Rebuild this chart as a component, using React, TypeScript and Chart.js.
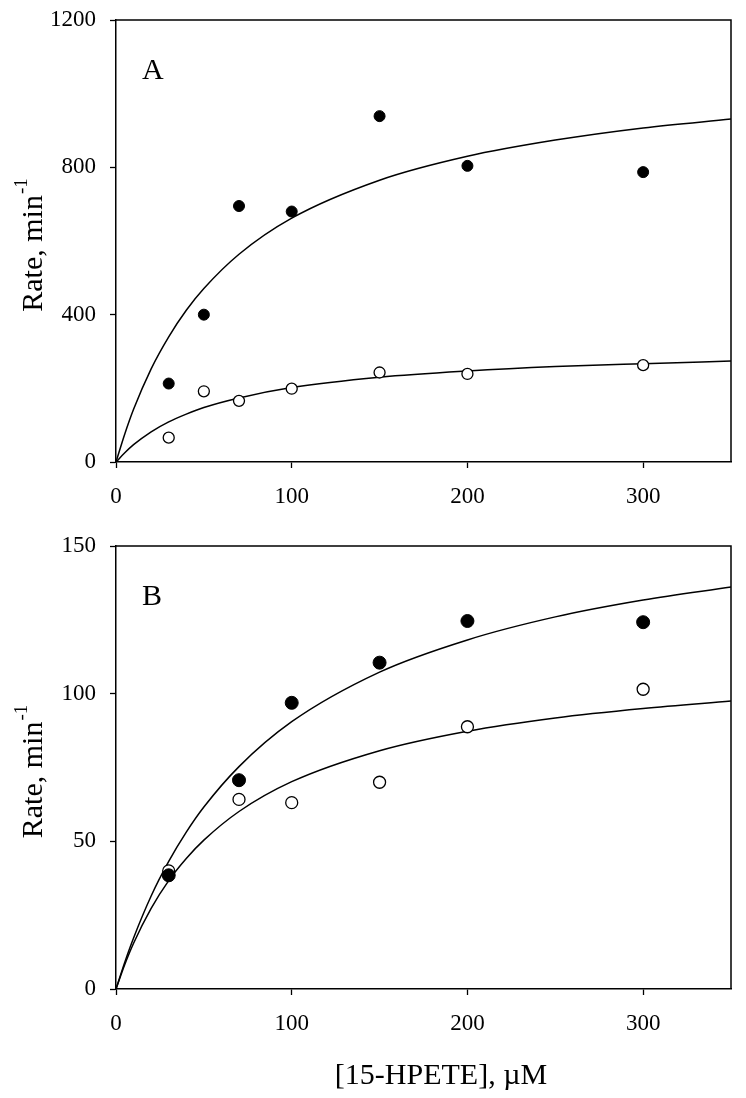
import React, { useEffect, useRef } from 'react';
import { Chart, registerables } from 'chart.js';

Chart.register(...registerables);

const FONT = "'Liberation Serif', 'Times New Roman', Times, serif";

// Tick labels
const xTicks = [0, 100, 200, 300];
const yTicksA = [0, 400, 800, 1200];
const yTicksB = [0, 50, 100, 150];

// Panel A measured points
const xA = [30, 50, 70, 100, 150, 200, 300];
const aFilled = [213, 400, 695, 680, 939, 804, 787];
const aOpen = [66, 192, 166, 199, 243, 239, 263];

// Panel B measured points
const xB = [30, 70, 100, 150, 200, 300];
const bFilled = [38.5, 70.7, 96.9, 110.5, 124.6, 124.2];
const bOpen = [40, 64.2, 63.1, 70.0, 88.8, 101.5];

// Fitted curves
const fitX = [0, 5, 10, 20, 30, 40, 50, 70, 100, 150, 200, 250, 300, 350];
const aFitFilled = [0, 76, 143, 253, 340, 412, 471, 564, 662, 765, 830, 874, 907, 931];
const aFitOpen = [0, 25, 47, 82, 109, 130, 148, 174, 202, 230, 247, 259, 267, 274];
const bFitFilled = [0, 9.1, 17.3, 31.5, 43.2, 53.1, 61.6, 75.3, 90.5, 107.3, 118.2, 126.0, 131.7, 136.1];
const bFitOpen = [0, 8.3, 15.5, 27.3, 36.7, 44.2, 50.4, 60.1, 70.2, 80.7, 87.3, 91.8, 95.0, 97.5];

const zip = (xs: number[], ys: number[]) => xs.map((x, i) => ({ x, y: ys[i] }));

type PanelOpts = {
  letter: string;
  yTicks: number[];
  yMax: number;
  filled: { x: number; y: number }[];
  open: { x: number; y: number }[];
  fitFilled: { x: number; y: number }[];
  fitOpen: { x: number; y: number }[];
  padTop: number;
  xAxisHeight: number;
  filledR: number;
  openR: number;
  xTitle: boolean;
};

function buildChart(canvas: HTMLCanvasElement, o: PanelOpts) {
  const decor = {
    id: 'decor' + o.letter,
    afterDraw(chart: any) {
      const { ctx, chartArea } = chart;
      const { left, top, right, bottom } = chartArea;
      ctx.save();
      ctx.strokeStyle = '#000';
      ctx.lineWidth = 1.5;
      ctx.beginPath();
      ctx.moveTo(left, top);
      ctx.lineTo(right, top);
      ctx.lineTo(right, bottom);
      ctx.stroke();

      ctx.fillStyle = '#000';
      // panel letter
      ctx.font = `30px ${FONT}`;
      ctx.textAlign = 'left';
      ctx.textBaseline = 'alphabetic';
      ctx.fillText(o.letter, left + 26, top + 59);

      // y title with superscript
      const main = 'Rate, min';
      const sup = '-1';
      ctx.font = `30px ${FONT}`;
      const w1 = ctx.measureText(main).width;
      ctx.font = `19px ${FONT}`;
      const w2 = ctx.measureText(sup).width;
      const total = w1 + 1 + w2;
      const cy = (top + bottom) / 2;
      ctx.translate(42, cy + total / 2 + 4);
      ctx.rotate(-Math.PI / 2);
      ctx.font = `30px ${FONT}`;
      ctx.fillText(main, 0, 0);
      ctx.font = `19px ${FONT}`;
      ctx.fillText(sup, w1 + 1, -15);
      ctx.restore();

      if (o.xTitle) {
        ctx.save();
        ctx.fillStyle = '#000';
        ctx.font = `30px ${FONT}`;
        ctx.textAlign = 'center';
        ctx.textBaseline = 'alphabetic';
        ctx.fillText('[15-HPETE], \u00B5M', 441, bottom + 95);
        ctx.restore();
      }
    },
  };

  const tickFont = { family: FONT, size: 23 };

  return new Chart(canvas, {
    type: 'scatter',
    data: {
      datasets: [
        {
          data: o.filled,
          pointRadius: o.filledR,
          pointBackgroundColor: '#000',
          pointBorderColor: '#000',
          pointBorderWidth: 1,
          showLine: false,
        },
        {
          data: o.open,
          pointRadius: o.openR,
          pointBackgroundColor: '#fff',
          pointBorderColor: '#000',
          pointBorderWidth: 1.3,
          showLine: false,
        },
        {
          data: o.fitFilled,
          showLine: true,
          pointRadius: 0,
          borderColor: '#000',
          borderWidth: 1.5,
          cubicInterpolationMode: 'monotone',
          fill: false,
        },
        {
          data: o.fitOpen,
          showLine: true,
          pointRadius: 0,
          borderColor: '#000',
          borderWidth: 1.5,
          cubicInterpolationMode: 'monotone',
          fill: false,
        },
      ],
    } as any,
    options: {
      responsive: false,
      animation: false,
      devicePixelRatio: 1,
      layout: { padding: { left: 0, right: 15, top: o.padTop, bottom: 0 } },
      plugins: { legend: { display: false }, tooltip: { enabled: false } },
      events: [],
      scales: {
        x: {
          type: 'linear',
          min: 0,
          max: 350,
          afterBuildTicks: (s: any) => {
            s.ticks = xTicks.map((v) => ({ value: v }));
          },
          afterFit: (s: any) => {
            s.height = o.xAxisHeight;
            s.paddingLeft = 0;
            s.paddingRight = 0;
            s.paddingTop = 0;
            s.paddingBottom = 0;
          },
          grid: {
            display: true,
            drawOnChartArea: false,
            drawTicks: true,
            tickLength: 6,
            tickColor: '#000',
            tickWidth: 1.3,
          },
          border: { display: true, color: '#000', width: 1.5 },
          ticks: {
            color: '#000',
            font: tickFont,
            padding: 15,
            maxRotation: 0,
            callback: (v: any) => String(v),
          },
        },
        y: {
          type: 'linear',
          min: 0,
          max: o.yMax,
          afterBuildTicks: (s: any) => {
            s.ticks = o.yTicks.map((v) => ({ value: v }));
          },
          afterFit: (s: any) => {
            s.width = 116;
            s.paddingLeft = 0;
            s.paddingRight = 0;
            s.paddingTop = 0;
            s.paddingBottom = 0;
          },
          grid: {
            display: true,
            drawOnChartArea: false,
            drawTicks: true,
            tickLength: 6,
            tickColor: '#000',
            tickWidth: 1.3,
          },
          border: { display: true, color: '#000', width: 1.5 },
          ticks: { color: '#000', font: tickFont, padding: 14, callback: (v: any) => String(v) },
        },
      },
    } as any,
    plugins: [decor],
  });
}

export default function App() {
  const refA = useRef<HTMLCanvasElement>(null);
  const refB = useRef<HTMLCanvasElement>(null);

  useEffect(() => {
    const cA = buildChart(refA.current!, {
      letter: 'A',
      yTicks: yTicksA,
      yMax: 1200,
      filled: zip(xA, aFilled),
      open: zip(xA, aOpen),
      fitFilled: zip(fitX, aFitFilled),
      fitOpen: zip(fitX, aFitOpen),
      padTop: 20,
      xAxisHeight: 58,
      filledR: 5.5,
      openR: 5.5,
      xTitle: false,
    });
    const cB = buildChart(refB.current!, {
      letter: 'B',
      yTicks: yTicksB,
      yMax: 150,
      filled: zip(xB, bFilled),
      open: zip(xB, bOpen),
      fitFilled: zip(fitX, bFitFilled),
      fitOpen: zip(fitX, bFitOpen),
      padTop: 26,
      xAxisHeight: 109,
      filledR: 6.5,
      openR: 6,
      xTitle: true,
    });
    return () => {
      cA.destroy();
      cB.destroy();
    };
  }, []);

  return (
    <div style={{ position: 'absolute', left: 0, top: 0, width: 746, height: 1098, background: '#fff' }}>
      <canvas ref={refA} width={746} height={520} style={{ position: 'absolute', left: 0, top: 0, display: 'block' }} />
      <canvas ref={refB} width={746} height={578} style={{ position: 'absolute', left: 0, top: 520, display: 'block' }} />
    </div>
  );
}
